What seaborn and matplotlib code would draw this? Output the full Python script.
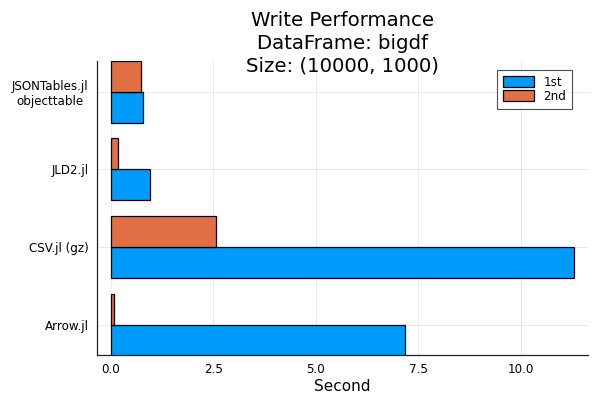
import pandas as pd
import matplotlib
matplotlib.use('Agg')
import matplotlib.pyplot as plt
import seaborn as sns

# dados
categorias = ['Arrow.jl', 'CSV.jl (gz)', 'JLD2.jl', 'JSONTables.jl\nobjecttable']
tempo_1st = [7.18, 11.30, 0.95, 0.79]
tempo_2nd = [0.07, 2.56, 0.17, 0.73]
series = ['1st', '2nd']
cores = ['#009AFA', '#E36F47']

df = pd.DataFrame({
    'pacote': categorias * 2,
    'segundos': tempo_1st + tempo_2nd,
    'execucao': ['1st'] * len(categorias) + ['2nd'] * len(categorias),
})

sns.set_style('white')
plt.rcParams['font.family'] = ['DejaVu Sans']
plt.rcParams['text.color'] = 'black'
plt.rcParams['xtick.color'] = 'black'
plt.rcParams['ytick.color'] = 'black'
plt.rcParams['axes.labelcolor'] = 'black'

fig = plt.figure(figsize=(6, 4), dpi=100)
ax = fig.add_axes([97 / 600, 45 / 400, 491 / 600, 294.3 / 400])

sns.barplot(data=df, y='pacote', x='segundos', hue='execucao', order=categorias,
            hue_order=series, palette=cores, orient='h', width=0.8, dodge=True,
            edgecolor='black', linewidth=0.9, saturation=1, ax=ax)

ax.set_ylim(-0.39, 3.40)
ax.set_xlim(-0.34, 11.64)
ax.set_xticks([0, 2.5, 5.0, 7.5, 10.0])
ax.set_xticklabels(['0.0', '2.5', '5.0', '7.5', '10.0'])
ax.grid(True, color='#e6e6e6', linewidth=0.6)
ax.set_axisbelow(True)
ax.tick_params(direction='in', length=3, labelsize=8.6, color='#333333', pad=6)
for rotulo in ax.get_yticklabels():
    rotulo.set_multialignment('center')
ax.set_ylabel('')
ax.set_xlabel('Second', fontsize=11, labelpad=2)
for lado in ['top', 'right']:
    ax.spines[lado].set_visible(False)
for lado in ['left', 'bottom']:
    ax.spines[lado].set_color('#222222')
    ax.spines[lado].set_linewidth(0.9)

ax.text(0.5, 0.951, 'Write Performance\nDataFrame: bigdf\nSize: (10000, 1000)',
        transform=ax.transAxes, ha='center', va='bottom', fontsize=14.2, linespacing=1.24)

leg = ax.legend(loc='upper right', fontsize=8.6, frameon=True, fancybox=False,
                handlelength=2.6, handleheight=1.0, borderpad=0.5, labelspacing=0.1,
                bbox_to_anchor=(0.98, 0.99))
leg.get_frame().set_edgecolor('#222222')
leg.get_frame().set_linewidth(0.8)

fig.savefig('out.png', dpi=100)
